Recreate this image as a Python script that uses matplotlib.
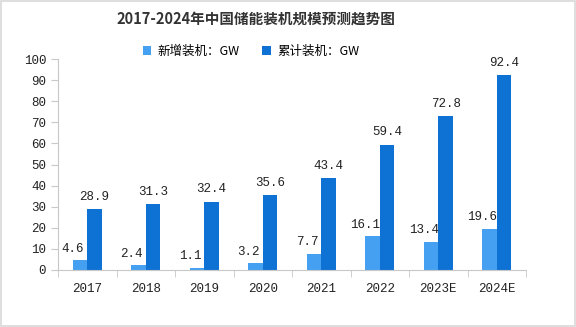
import matplotlib.pyplot as plt
import numpy as np

plt.rcParams['font.family'] = ['Noto Sans CJK SC', 'DejaVu Sans']

years = ['2017', '2018', '2019', '2020', '2021', '2022', '2023E', '2024E']
new_cap = [4.6, 2.4, 1.1, 3.2, 7.7, 16.1, 13.4, 19.6]
total_cap = [28.9, 31.3, 32.4, 35.6, 43.4, 59.4, 72.8, 92.4]

c_new = '#45a0f2'
c_total = '#0e72d4'
grey = '#c8c8c8'
num_font = ['Liberation Mono', 'DejaVu Sans']

fig = plt.figure(figsize=(5.76, 3.27), dpi=100)
ax = fig.add_axes([58 / 576, 1 - 270 / 327, 468 / 576, 211 / 327])

x = np.arange(len(years))
w = 0.25
b1 = ax.bar(x - w / 2, new_cap, w, color=c_new, label='新增装机：GW')
b2 = ax.bar(x + w / 2, total_cap, w, color=c_total, label='累计装机：GW')

# labels of the small bars sit a bit left of the bar
for xi, v in zip(x, new_cap):
    ax.text(xi - w / 2 - 0.12, v + 2.5, f'{v}', ha='center', va='bottom', fontsize=9,
            family=num_font, color='#222222')
for xi, v in zip(x, total_cap):
    ax.text(xi + w / 2, v + 3, f'{v}', ha='center', va='bottom', fontsize=9,
            family=num_font, color='#222222')

ax.set_xlim(-0.5, len(years) - 0.5)
ax.set_ylim(0, 100)
ax.set_yticks(range(0, 101, 10))
ax.set_xticks(x)
ax.set_xticklabels(years, family=num_font)
ax.set_xticks(np.arange(-0.5, len(years), 1), minor=True)
ax.tick_params(axis='x', which='major', length=0, labelsize=9, pad=9, colors='#222222')
ax.tick_params(axis='x', which='minor', length=5, color=grey)
ax.tick_params(axis='y', length=5, color=grey, labelsize=9, labelcolor='#222222')
for lab in ax.get_yticklabels():
    lab.set_family(num_font)

for s in ['top', 'right']:
    ax.spines[s].set_visible(False)
ax.spines['left'].set_color(grey)
ax.spines['bottom'].set_color(grey)

fig.text(256 / 576, 1 - 19 / 327, '2017-2024年中国储能装机规模预测趋势图', ha='center', va='center',
         fontsize=10.5, fontweight='bold', color='#333333')
fig.legend(handles=[b1, b2], loc='center', bbox_to_anchor=(251 / 576, 1 - 51 / 327), ncol=2,
           frameon=False, fontsize=9, handlelength=0.7, handleheight=0.7,
           columnspacing=1.8, handletextpad=0.5)

fig.patches.append(plt.Rectangle((0.002, 0.003), 0.996, 0.994, transform=fig.transFigure,
                                 fill=False, edgecolor='#d8d8d8', lw=1.2))

fig.savefig('out.png', dpi=100)
